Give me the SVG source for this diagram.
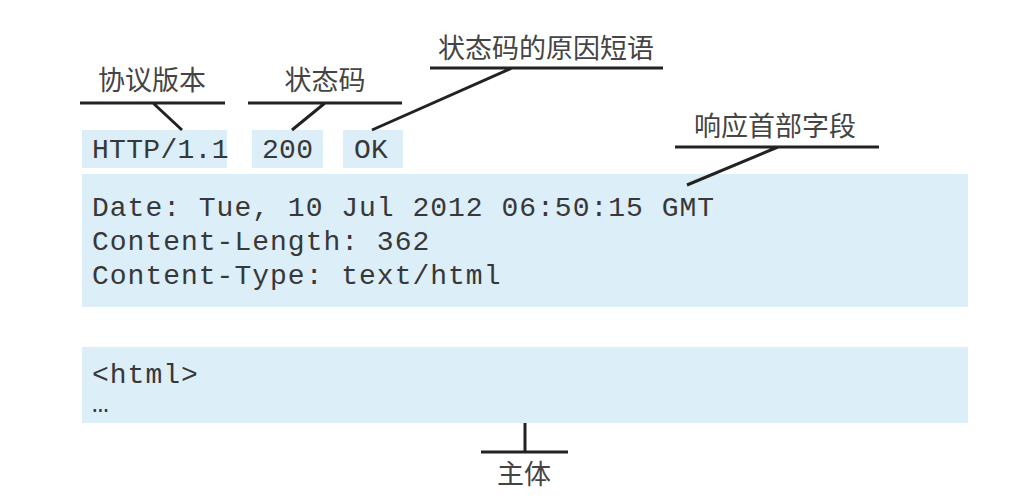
<svg xmlns="http://www.w3.org/2000/svg" width="1022" height="498" viewBox="0 0 1022 498">
<style>
.box{fill:#dcEEf8}
.code{font-family:"Liberation Mono","DejaVu Sans Mono",monospace;font-size:28px;fill:#383838;letter-spacing:1px}
.tight{letter-spacing:0.3px}
.lbl{font-family:"Noto Sans CJK SC","Noto Sans",sans-serif;font-size:27px;fill:#444;text-anchor:middle}
.ln{stroke:#222;stroke-width:3;fill:none}
</style>
<rect width="1022" height="498" fill="#fff"/>
<g id="version">
<rect class="box" x="82" y="130" width="145" height="38"/>
<text class="code tight" x="92" y="158">HTTP/1.1</text>
</g>
<g id="status">
<rect class="box" x="252" y="130" width="71" height="38"/>
<text class="code tight" x="262" y="158">200</text>
</g>
<g id="reason">
<rect class="box" x="343" y="130" width="60" height="38"/>
<text class="code tight" x="354" y="158">OK</text>
</g>
<g id="headers">
<rect class="box" x="82" y="174" width="886" height="133"/>
<text class="code" x="92" y="216">Date: Tue, 10 Jul 2012 06:50:15 GMT</text>
<text class="code" x="92" y="250">Content-Length: 362</text>
<text class="code" x="92" y="284">Content-Type: text/html</text>
</g>
<g id="body">
<rect class="box" x="82" y="347" width="886" height="76"/>
<text class="code" x="92" y="383">&lt;html&gt;</text>
<text class="code" x="92" y="412">…</text>
</g>
<g id="label-version"><text class="lbl" x="152" y="90">协议版本</text></g>
<g id="label-status"><text class="lbl" x="325" y="90">状态码</text></g>
<g id="label-reason"><text class="lbl" x="546" y="58">状态码的原因短语</text></g>
<g id="label-headers"><text class="lbl" x="775" y="136">响应首部字段</text></g>
<g id="label-body"><text class="lbl" x="524" y="484">主体</text></g>
<g id="connectors">
<path class="ln" d="M80 103H225M153 103L182 130"/>
<path class="ln" d="M248 103H402M325 103L292 130"/>
<path class="ln" d="M430 68H663M512 68L372 130"/>
<path class="ln" d="M675 147H879M778 147L687 185"/>
<path class="ln" d="M525 423V452M481 452H568"/>
</g>
</svg>
